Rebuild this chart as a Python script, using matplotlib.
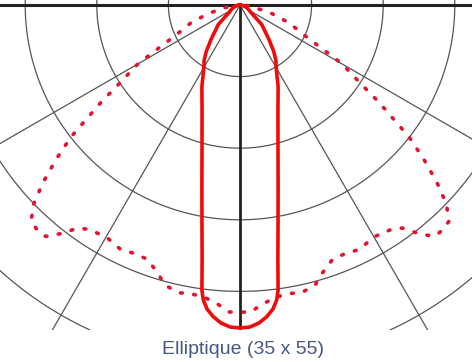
import numpy as np
import matplotlib.pyplot as plt

# photometric curves, angle from nadir (deg) -> intensity (rings every 100)
ang_solid = [0, 1.75, 3.4, 4.9, 6.2, 7.1, 7.6, 8.5, 10, 12, 15, 20, 25, 30, 33, 36, 40, 45, 48, 52, 55, 60, 70, 80, 90]
val_solid = [451, 450, 445, 437, 427, 415, 402, 358, 306, 256, 205, 155, 126, 101, 92, 80, 63, 47, 41, 25, 19, 15, 10, 5, 0]

ang_dot = [0, 2, 4, 7, 10, 12, 15, 17, 20, 23, 26, 30, 34, 36, 38, 40, 42, 44, 46, 48,
           50, 52, 55, 57, 60, 65, 70, 75, 80, 85, 90]
val_dot = [429, 429, 420, 411, 409, 411, 405, 392, 378, 377, 380, 374, 378, 385, 405, 422,
           423, 420, 401, 370, 335, 300, 237, 200, 165, 98, 73, 46, 21, 10, 0]

rings = [100, 200, 300, 400, 500, 600]
spokes = [-60, -30, 30, 60]
caption = "Elliptique (35 x 55)"

W, H = 472, 362
fig = plt.figure(figsize=(W / 100, H / 100), dpi=100)
ax = fig.add_axes([0, 32 / H, 1, 330 / H])
k = 0.716  # px per unit
ax.set_xlim(-240 / k, 232 / k)
ax.set_ylim(-325 / k, 5 / k)
ax.axis('off')

t = np.linspace(0, 2 * np.pi, 400)
for r in rings:
    ax.plot(r * np.cos(t), r * np.sin(t), color='#555555', lw=0.9, zorder=1)
for a in spokes:
    rad = np.radians(a)
    ax.plot([0, 900 * np.sin(rad)], [0, -900 * np.cos(rad)], color='#555555', lw=0.9, zorder=1)
ax.plot([-700, 700], [0, 0], color='#222222', lw=2.2, zorder=2)
ax.plot([0, 0], [0, -700], color='#222222', lw=2.0, zorder=2)

def curve(angs, vals):
    a = np.radians(np.array(angs))
    v = np.array(vals)
    a = np.concatenate([-a[::-1], a[1:]])
    v = np.concatenate([v[::-1], v[1:]])
    return v * np.sin(a), -v * np.cos(a)

x, y = curve(ang_dot, val_dot)
ax.plot(x, y, color='#e3122f', lw=2.6, linestyle=(0, (0.5, 3.2)),
        dash_capstyle='round', zorder=3, clip_on=False)
x, y = curve(ang_solid, val_solid)
ax.plot(x, y, color='#f00a0a', lw=2.6, zorder=4, clip_on=False,
        solid_joinstyle='round')

fig.text(243 / W, 1 - 349 / H, caption, ha='center', va='center',
         fontsize=14, color='#48577f', family='Liberation Sans')

fig.savefig('out.png', dpi=100)
